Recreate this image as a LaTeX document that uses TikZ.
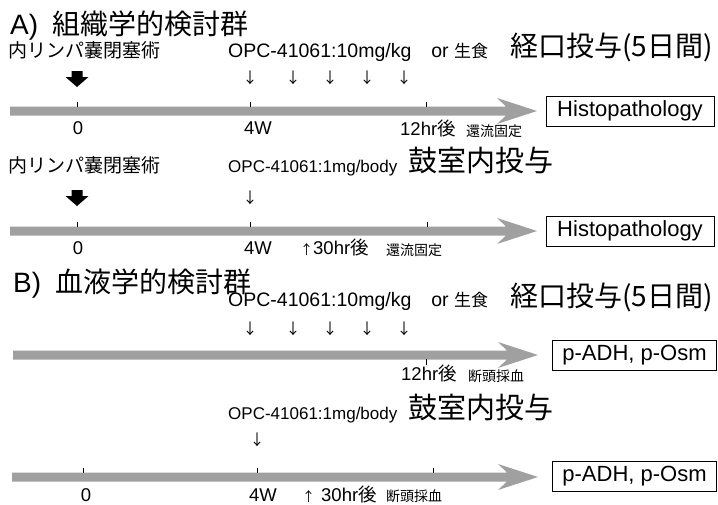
\documentclass[tikz,border=0pt]{standalone}
\usepackage{fontspec}
\setmainfont{Liberation Sans}
\newfontfamily\jp{Noto Sans CJK JP}
\usetikzlibrary{arrows.meta}
\definecolor{tlgray}{RGB}{160,160,160}
\newcommand{\fsz}[1]{\fontsize{#1}{#1}\selectfont}
\newcommand{\mytimeline}[3]{%
  \fill[tlgray] (#2,#1-4.5) -- (#3-31,#1-4.5) -- (#3-40,#1-13) -- (#3,#1) -- (#3-40,#1+13) -- (#3-31,#1+4.5) -- (#2,#1+4.5) -- cycle;}
\newcommand{\mybigdown}[2]{%
  \fill[black] (#1-5.5,#2) -- (#1+5.5,#2) -- (#1+5.5,#2+6) -- (#1+11.5,#2+6) -- (#1,#2+16) -- (#1-11.5,#2+6) -- (#1-5.5,#2+6) -- cycle;}
\tikzset{
  lbl/.style={inner sep=0pt, anchor=base west},
  lblc/.style={inner sep=0pt, anchor=base},
  resbox/.style={draw=black, line width=0.7pt, fill=white, inner sep=0pt, minimum height=30pt, font=\fsz{22}},
  tickline/.style={line width=0.6pt},
  dnarr/.style={inner sep=0pt, font=\jp\fsz{15}},
  smalljp/.style={inner sep=0pt, anchor=base west, font=\jp\fsz{14}},
}
\begin{document}
\begin{tikzpicture}[x=1pt,y=-1pt]
\useasboundingbox (0,0) rectangle (718,504);
\fill[white] (0,0) rectangle (718,504);

% ---------- Row 1 ----------
\node[lbl, font=\fsz{28}] (titleA) at (10,34) {A)\hspace{14pt}{\jp 組織学的検討群}};
\node[lbl, font=\jp\fsz{19}] (surgA) at (8,57) {内リンパ嚢閉塞術};
\node[lbl, font=\fsz{19.5}] (opcA) at (228,57) {OPC-41061:10mg/kg\hspace{20pt}or {\jp\fsz{17}生食}};
\node[lbl, font=\jp\fsz{28}] (routeA) at (510,56) {経口投与(5日間)};
\mybigdown{77}{71}
\foreach \x [count=\i] in {250,293,330,367,404} \node[dnarr] (a1\i) at (\x,78) {↓};
\mytimeline{111}{10}{537}
\foreach \x in {77,250,426} \draw[tickline] (\x,102) -- (\x,107);
\node[lblc, font=\fsz{18.5}] (z1) at (78,134) {0};
\node[lblc, font=\fsz{18.5}] (w1) at (258,134) {4W};
\node[lbl, font=\fsz{18.5}] (h1) at (400,135) {12hr{\jp 後}};
\node[smalljp] (f1) at (466,136) {還流固定};
\node[resbox, minimum width=168pt] (box1) at (630,111) {Histopathology};

% ---------- Row 2 ----------
\node[lbl, font=\jp\fsz{19}] (surgB) at (8,172) {内リンパ嚢閉塞術};
\node[lbl, font=\fsz{17}] (opcB) at (228,172) {OPC-41061:1mg/body};
\node[lbl, font=\jp\fsz{29}] (routeB) at (408,171) {鼓室内投与};
\mybigdown{77}{190}
\node[dnarr] (a21) at (250,198) {↓};
\mytimeline{231}{10}{537}
\foreach \x in {77,250,427} \draw[tickline] (\x,222) -- (\x,227);
\node[lblc, font=\fsz{18.5}] (z2) at (78,254) {0};
\node[lblc, font=\fsz{18.5}] (w2) at (258,254) {4W};
\node[lbl, font=\fsz{18.5}] (h2) at (300,254) {{\jp\fsz{13}↑}30hr{\jp 後}};
\node[smalljp] (f2) at (386,255) {還流固定};
\node[resbox, minimum width=168pt] (box2) at (630,231) {Histopathology};

% ---------- Row 3 ----------
\node[lbl, font=\fsz{28}] (titleB) at (13,292) {B)\hspace{14pt}{\jp 血液学的検討群}};
\node[lbl, font=\fsz{19.5}] (opcC) at (228,306) {OPC-41061:10mg/kg\hspace{20pt}or {\jp\fsz{17}生食}};
\node[lbl, font=\jp\fsz{28}] (routeC) at (510,306) {経口投与(5日間)};
\foreach \x [count=\i] in {250,293,330,367,404} \node[dnarr] (a3\i) at (\x,329) {↓};
\mytimeline{355}{13}{538}
\draw[tickline] (426,359) -- (426,365);
\node[lbl, font=\fsz{18.5}] (h3) at (401,380) {12hr{\jp 後}};
\node[smalljp] (f3) at (468,381) {断頭採血};
\node[resbox, minimum width=164pt] (box3) at (634.5,355) {p-ADH, p-Osm};

% ---------- Row 4 ----------
\node[lbl, font=\fsz{17}] (opcD) at (228,419) {OPC-41061:1mg/body};
\node[lbl, font=\jp\fsz{29}] (routeD) at (408,418) {鼓室内投与};
\node[dnarr] (a41) at (257,440) {↓};
\mytimeline{477}{12}{538}
\foreach \x in {83,257,433} \draw[tickline] (\x,468) -- (\x,473);
\node[lblc, font=\fsz{18.5}] (z4) at (86,501) {0};
\node[lblc, font=\fsz{18.5}] (w4) at (263,501) {4W};
\node[lbl, font=\fsz{18.5}] (h4) at (302,501) {{\jp\fsz{13}↑}\hspace{6pt}30hr{\jp 後}};
\node[smalljp] (f4) at (386,501) {断頭採血};
\node[resbox, minimum width=164pt] (box4) at (634.5,476) {p-ADH, p-Osm};
\end{tikzpicture}
\end{document}
